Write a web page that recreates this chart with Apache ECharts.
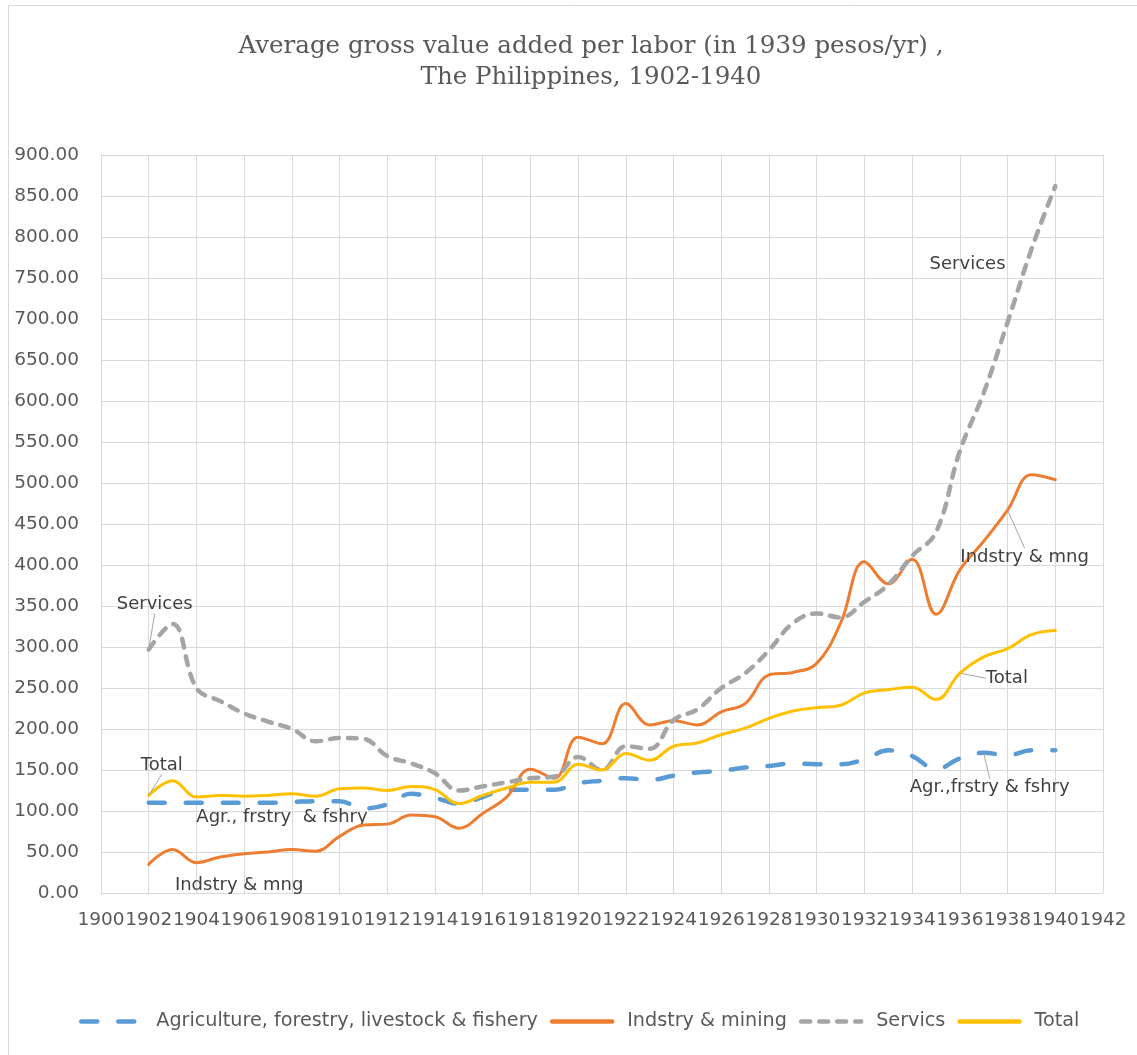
<!DOCTYPE html>
<html>
<head>
<meta charset="utf-8">
<script src="https://cdn.jsdelivr.net/npm/echarts@6/dist/echarts.min.js"></script>
<style>
  html, body { margin: 0; padding: 0; background: #fff; }
  #main { width: 1137px; height: 1055px; }
</style>
</head>
<body>
<div id="main"></div>
<script>
var years = [];
for (var y = 1902; y <= 1940; y++) { years.push(y); }

var agriData = [110, 110, 110, 110, 110, 110, 111, 112, 112, 103,
                108, 121, 116, 109, 117, 126, 126, 126, 134, 137,
                140, 138, 143, 147, 149, 153, 155, 158, 157, 157,
                163, 174, 167, 151, 164, 171, 168, 174, 174];
var indData = [35, 53, 37, 44, 48, 50, 53, 51, 69, 83,
               84, 95, 93, 79, 97, 117, 151, 140, 190, 182,
               231, 205, 210, 205, 221, 231, 266, 269, 280, 329,
               404, 377, 407, 340, 394, 429, 467, 510, 504];
var servData = [297, 328, 250, 234, 219, 209, 200, 185, 189, 188,
                167, 158, 146, 125, 130, 135, 140, 142, 166, 150,
                179, 176, 211, 224, 250, 268, 296, 329, 341, 336,
                355, 376, 411, 440, 539, 610, 696, 785, 862];
var totalData = [119, 137, 117, 119, 118, 119, 121, 118, 127, 128,
                 125, 130, 126, 109, 119, 128, 135, 135, 157, 150,
                 170, 162, 179, 183, 193, 201, 213, 222, 226, 229,
                 244, 248, 251, 236, 268, 288, 298, 315, 320];

var seriesNames = ['Agriculture, forestry, livestock & fishery', 'Indstry & mining', 'Servics', 'Total'];

// data labels (Excel style callouts): series index, year, text
var notes = [
    {s: 2, year: 1902, text: 'Services', dx: 6, dy: -45, line: true},
    {s: 3, year: 1902, text: 'Total', dx: 13, dy: -30, line: true},
    {s: 0, year: 1907, text: 'Agr., frstry  & fshry', dx: 14, dy: 15, line: false},
    {s: 1, year: 1906, text: 'Indstry & mng', dx: -5, dy: 32, line: false},
    {s: 2, year: 1938, text: 'Services', dx: -40, dy: -58, line: false},
    {s: 1, year: 1938, text: 'Indstry & mng', dx: 17, dy: 47, line: true},
    {s: 3, year: 1936, text: 'Total', dx: 47, dy: 5, line: true},
    {s: 0, year: 1937, text: 'Agr.,frstry & fshry', dx: 6, dy: 35, line: true}
];

function buildData(si, vals) {
    return vals.map(function (v, i) {
        var item = {value: [years[i], v]};
        notes.forEach(function (n) {
            if (n.s === si && n.year === years[i]) {
                item.label = {show: true, formatter: n.text};
                item.labelLine = {show: n.line, lineStyle: {color: '#a6a6a6', width: 1}};
            }
        });
        return item;
    });
}

function findNote(si, di) {
    for (var i = 0; i < notes.length; i++) {
        if (notes[i].s === si && notes[i].year === years[di]) return notes[i];
    }
    return null;
}

var font = 'DejaVu Sans';
var baseLabel = {
    show: false,
    position: 'inside',
    color: '#404040',
    fontFamily: font,
    fontSize: 18
};
var hidden = 'rgba(0,0,0,0)';

var myChart = echarts.init(document.getElementById('main'));

var option = {
    backgroundColor: '#fff',
    animation: false,
    title: {
        text: 'Average gross value added per labor (in 1939 pesos/yr) ,\nThe Philippines, 1902-1940',
        left: 586,
        top: 26,
        textAlign: 'center',
        textStyle: {
            fontFamily: 'DejaVu Serif',
            fontWeight: 'normal',
            fontSize: 24.5,
            lineHeight: 31,
            color: '#595959'
        }
    },
    graphic: [{
        type: 'rect',
        shape: {x: 8.5, y: 5.5, width: 1300, height: 1300},
        style: {fill: 'none', stroke: '#d9d9d9', lineWidth: 1},
        silent: true
    }],
    legend: {
        bottom: 19,
        left: 74,
        itemWidth: 60,
        itemHeight: 12,
        itemGap: 12,
        lineStyle: {width: 4.5},
        textStyle: {fontFamily: font, fontSize: 19.2, color: '#595959', padding: [0, 0, 0, 10]},
        data: seriesNames
    },
    grid: {left: 101, right: 34, top: 155, bottom: 162},
    xAxis: {
        type: 'value',
        min: 1900,
        max: 1942,
        interval: 2,
        axisLine: {show: true, lineStyle: {color: '#d9d9d9', width: 1}},
        axisTick: {show: false},
        splitLine: {show: true, lineStyle: {color: '#d9d9d9', width: 1}},
        axisLabel: {
            margin: 18,
            color: '#595959',
            fontFamily: font,
            fontSize: 18.5,
            formatter: function (v) { return String(v); }
        }
    },
    yAxis: {
        type: 'value',
        min: 0,
        max: 900,
        interval: 50,
        axisLine: {show: true, lineStyle: {color: '#d9d9d9', width: 1}},
        axisTick: {show: false},
        splitLine: {show: true, lineStyle: {color: '#d9d9d9', width: 1}},
        axisLabel: {
            margin: 22,
            color: '#595959',
            fontFamily: font,
            fontSize: 18.5,
            formatter: function (v) { return v.toFixed(2); }
        }
    },
    series: [
        {
            name: seriesNames[0],
            type: 'line',
            smooth: 0.4,
            symbol: 'circle',
            symbolSize: 2,
            showSymbol: true,
            data: buildData(0, agriData),
            itemStyle: {color: hidden},
            lineStyle: {color: '#5b9bd5', width: 4.5, type: [16, 21], cap: 'round'},
            label: baseLabel,
            z: 2
        },
        {
            name: seriesNames[1],
            type: 'line',
            smooth: 0.4,
            symbol: 'circle',
            symbolSize: 2,
            showSymbol: true,
            data: buildData(1, indData),
            itemStyle: {color: hidden},
            lineStyle: {color: '#ed7d31', width: 3, cap: 'round'},
            label: baseLabel,
            z: 3
        },
        {
            name: seriesNames[2],
            type: 'line',
            smooth: 0.4,
            symbol: 'circle',
            symbolSize: 2,
            showSymbol: true,
            data: buildData(2, servData),
            itemStyle: {color: hidden},
            lineStyle: {color: '#a5a5a5', width: 4.5, type: [9, 9], cap: 'round'},
            label: baseLabel,
            z: 4
        },
        {
            name: seriesNames[3],
            type: 'line',
            smooth: 0.4,
            symbol: 'circle',
            symbolSize: 2,
            showSymbol: true,
            data: buildData(3, totalData),
            itemStyle: {color: hidden},
            lineStyle: {color: '#ffc000', width: 3, cap: 'round'},
            label: baseLabel,
            z: 5
        }
    ],
    labelLayout: function (params) {
        var n = findNote(params.seriesIndex, params.dataIndex);
        if (!n) return {};
        return {dx: n.dx, dy: n.dy};
    }
};

myChart.setOption(option);
</script>
</body>
</html>
